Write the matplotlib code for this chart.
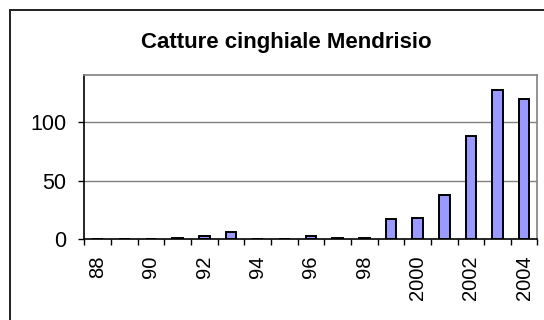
import matplotlib.pyplot as plt
from matplotlib.patches import Rectangle
from matplotlib.ticker import FixedLocator, FixedFormatter

plt.rcParams['font.family'] = ['Liberation Sans', 'DejaVu Sans']

# Captures per year, 1988-2004
years = ['88', '89', '90', '91', '92', '93', '94', '95', '96', '97', '98',
         '99', '2000', '2001', '2002', '2003', '2004']
catture = [0, 0, 0, 1, 3, 6, 0, 0, 3, 1, 1, 17, 18, 38, 88, 127, 120]
y_ticks = [0, 50, 100]

fig = plt.figure(figsize=(5.44, 3.2), dpi=100)
ax = fig.add_axes([0.155, 0.253, 0.833, 0.512])

x = list(range(len(years)))
ax.bar(x, catture, width=0.4, color='#9999FF', edgecolor='black',
       linewidth=1.4, zorder=3)

ax.set_xlim(-0.5, len(years) - 0.5)
ax.set_ylim(0, 140)

# gridlines at the y ticks
for v in y_ticks[1:]:
    ax.axhline(v, color='#808080', linewidth=1.0, zorder=1)

# labels on every other year, tick marks between categories
label_pos = x[::2]
ax.xaxis.set_major_locator(FixedLocator(label_pos))
ax.xaxis.set_major_formatter(FixedFormatter(years[::2]))
ax.xaxis.set_minor_locator(FixedLocator([i - 0.5 for i in range(len(years) + 1)]))
ax.tick_params(axis='x', which='major', length=0, pad=12, labelsize=14.5,
               labelrotation=90)
ax.tick_params(axis='x', which='minor', length=4, width=1, direction='out',
               color='black')

ax.set_yticks(y_ticks)
ax.tick_params(axis='y', length=4, width=1, direction='out', pad=9,
               labelsize=15.5)

ax.spines['left'].set_color('black')
ax.spines['bottom'].set_color('black')
ax.spines['top'].set_color('#808080')
ax.spines['right'].set_color('#808080')
for s in ax.spines.values():
    s.set_linewidth(1.2)
    s.set_zorder(4)

fig.text(0.527, 0.868, 'Catture cinghiale Mendrisio', ha='center',
         va='center', fontsize=16, fontweight='bold')

# outer chart frame, running off the right and bottom edges
fig.patches.append(Rectangle((9.5 / 544, -0.1), 1.0, 1.1 - 10.3 / 320,
                             transform=fig.transFigure, fill=False,
                             edgecolor='#202020', linewidth=1.4))

fig.savefig('out.png', dpi=100)
